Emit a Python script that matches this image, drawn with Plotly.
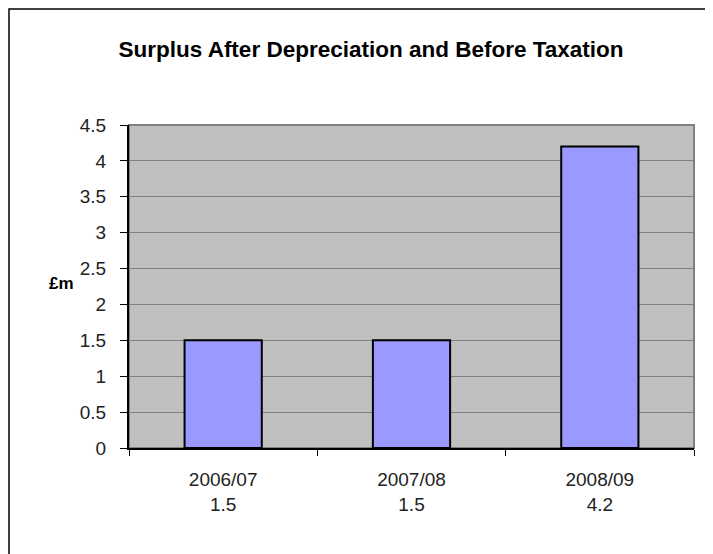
import plotly.graph_objects as go

years = ["2006/07", "2007/08", "2008/09"]
values = [1.5, 1.5, 4.2]
value_labels = ["1.5", "1.5", "4.2"]
categories = [f"{y}<br>{v}" for y, v in zip(years, value_labels)]

W, H = 713, 554
OFF = 8  # browser body margin
L, R, T, B = 129 - OFF, 19 + OFF, 125 - OFF, 106 + OFF
pw, ph = W - L - R, H - T - B

def px_x(p):
    return (p - OFF - L) / pw

def px_y(p):
    return (H - B - (p - OFF)) / ph

fig = go.Figure(go.Bar(
    x=categories, y=values,
    marker=dict(color="#9999FF", line=dict(color="black", width=2)),
    width=0.41,
))

fig.update_layout(
    width=W, height=H,
    margin=dict(l=L, r=R, t=T, b=B),
    paper_bgcolor="white",
    plot_bgcolor="#C0C0C0",
    font=dict(family="Liberation Sans, Arial", size=19, color="black"),
    showlegend=False,
    title=dict(text="<b>Surplus After Depreciation and Before Taxation</b>",
               x=(371 - OFF) / W, xanchor="center", y=1 - (49 - OFF) / H, yanchor="middle",
               font=dict(size=22.5, color="black")),
    xaxis=dict(showgrid=False, showline=True, linecolor="black", linewidth=2,
               ticks="outside", tickson="boundaries", ticklen=6, tickcolor="black",
               ticklabelstandoff=13,
               tickfont=dict(size=19, color="#222")),
    yaxis=dict(range=[0, 4.5], dtick=0.5, tick0=0, showgrid=True, gridcolor="#808080",
               gridwidth=1, showline=True, linecolor="black", linewidth=2,
               ticks="outside", ticklen=7, tickcolor="black", zeroline=False,
               ticklabelstandoff=10,
               tickfont=dict(size=19, color="#222")),
    shapes=[
        dict(type="rect", xref="paper", yref="paper", x0=0, x1=1, y0=0, y1=1,
             line=dict(color="#808080", width=2), layer="below"),
        dict(type="rect", xref="paper", yref="paper",
             x0=px_x(9), x1=px_x(760), y0=px_y(600), y1=px_y(9),
             line=dict(color="black", width=1.5)),
    ],
    annotations=[
        dict(text="<b>£m</b>", xref="paper", yref="paper", x=px_x(61), y=px_y(283),
             showarrow=False, font=dict(size=17, color="black"),
             xanchor="center", yanchor="middle"),
    ],
)

fig.write_html("out.html")
